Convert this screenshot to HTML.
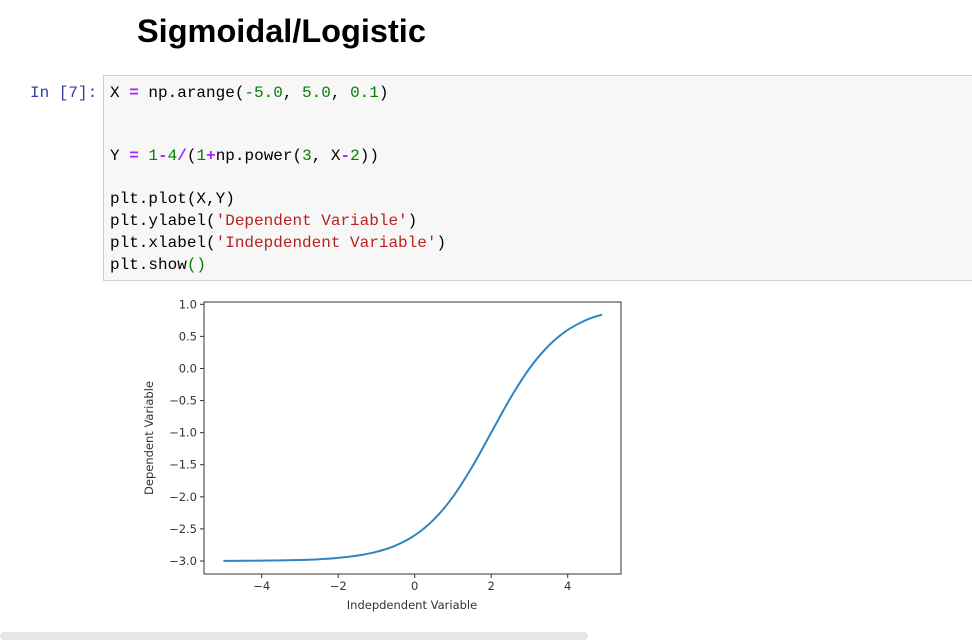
<!DOCTYPE html>
<html><head><meta charset="utf-8"><style>
body{margin:0;width:972px;height:640px;background:#fff;position:relative;overflow:hidden;font-family:"Liberation Sans",sans-serif}
.t{position:absolute;left:137px;top:13px;font-size:32.5px;font-weight:bold;color:#000}
.p{position:absolute;left:30px;top:84px;font:16px "Liberation Mono",monospace;color:#303f9f}
.cell{position:absolute;left:103px;top:75px;width:875px;height:206px;background:#f7f7f7;border:1px solid #cfcfcf;box-sizing:border-box}
pre{position:absolute;left:110px;margin:0;font:16px "Liberation Mono",monospace;line-height:21.7px;color:#000}
.o{color:#aa22ff;font-weight:bold}.n{color:#008000}.s{color:#ba2121}
.sb{position:absolute;left:0;top:632px;width:588px;height:8px;background:#e6e6e6;border-radius:4px}
</style></head><body>
<div class="t">Sigmoidal/Logistic</div>
<div class="p">In [7]:</div>
<div class="cell"></div>
<pre style="top:83px">X <span class="o">=</span> np.arange(<span class="n">-5.0</span>, <span class="n">5.0</span>, <span class="n">0.1</span>)</pre>
<pre style="top:146px">Y <span class="o">=</span> <span class="n">1</span><span class="o">-</span><span class="n">4</span><span class="o">/</span>(<span class="n">1</span><span class="o">+</span>np.power(<span class="n">3</span>, X<span class="o">-</span><span class="n">2</span>))

plt.plot(X,Y)
plt.ylabel(<span class="s">'Dependent Variable'</span>)
plt.xlabel(<span class="s">'Indepdendent Variable'</span>)
plt.show<span class="n">()</span></pre>
<svg id="ch" width="972" height="640" style="position:absolute;left:0;top:0"></svg>
<div class="sb"></div>
<script>
const xs=[-5,-4.5,-4,-3.5,-3,-2.5,-2,-1.5,-1,-0.5,0,0.5,1,1.5,2,2.5,3,3.5,4,4.5,4.9];
const ys=[-2.998,-2.997,-2.995,-2.991,-2.984,-2.972,-2.951,-2.916,-2.857,-2.759,-2.6,-2.354,-2,-1.536,-1,-0.464,0,0.354,0.6,0.759,0.84];
const xTicks=[-4,-2,0,2,4];
const yTicks=[1.0,0.5,0.0,-0.5,-1.0,-1.5,-2.0,-2.5,-3.0];
const NS="http://www.w3.org/2000/svg";
const svg=document.getElementById('ch');
const L=204,R=621,T=302,B=574;
const sx=v=>414.7+v*38.25;
function Y(v){return 304.3+(1.0-v)*64.175;}
function mk(t,a,txt){const e=document.createElementNS(NS,t);for(const k in a)e.setAttribute(k,a[k]);if(txt!==undefined)e.textContent=txt;svg.appendChild(e);return e;}
const fr=mk('rect',{x:L,y:T,width:R-L,height:B-T,fill:'none',stroke:'#333','stroke-width':1});


xTicks.forEach(v=>{const x=sx(v);
 const l=mk('line',{x1:x,x2:x,y1:B,y2:B+4,stroke:'#333'});
 
 
 const t=mk('text',{x:x,y:B+16,'text-anchor':'middle','font-size':11.5,fill:'#333','font-family':'DejaVu Sans,sans-serif'},v<0?'\u2212'+(-v):''+v);
 
 });
yTicks.forEach(v=>{const y=Y(v);
 const l=mk('line',{x1:L-4,x2:L,y1:y,y2:y,stroke:'#333'});
 
 
 const s=v<0?'\u2212'+(-v).toFixed(1):v.toFixed(1);
 const t=mk('text',{x:L-7,y:y+4,'text-anchor':'end','font-size':11.5,fill:'#333','font-family':'DejaVu Sans,sans-serif'},s);
 
 });
const xl=mk('text',{x:412,y:609,'text-anchor':'middle','font-size':11.5,fill:'#333','font-family':'DejaVu Sans,sans-serif'},'Indepdendent Variable');


const yl=mk('text',{x:0,y:0,transform:'translate(153,438) rotate(-90)','text-anchor':'middle','font-size':11.5,fill:'#333','font-family':'DejaVu Sans,sans-serif'},'Dependent Variable');


const P=xs.map((x,i)=>[sx(x),Y(ys[i])]);
let d='M'+P[0][0]+','+P[0][1];
for(let i=0;i<P.length-1;i++){const p0=P[Math.max(0,i-1)],p1=P[i],p2=P[i+1],p3=P[Math.min(P.length-1,i+2)];
 const c1=[p1[0]+(p2[0]-p0[0])/6,p1[1]+(p2[1]-p0[1])/6],c2=[p2[0]-(p3[0]-p1[0])/6,p2[1]-(p3[1]-p1[1])/6];
 d+=`C${c1[0]},${c1[1]} ${c2[0]},${c2[1]} ${p2[0]},${p2[1]}`;}
const ln=mk('path',{d:d,fill:'none',stroke:'#2f85c2','stroke-width':2});


</script>
</body></html>
